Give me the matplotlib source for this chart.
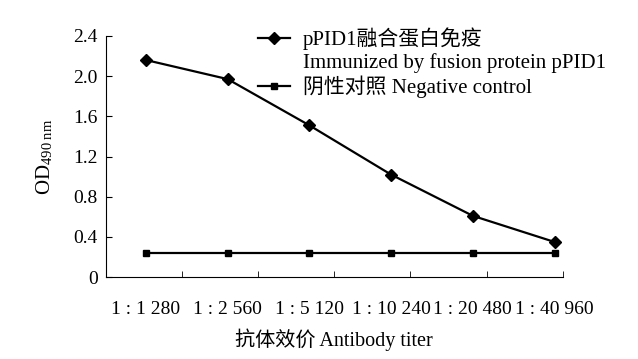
import matplotlib
matplotlib.use('Agg')
import matplotlib.pyplot as plt
from matplotlib.lines import Line2D
import numpy as np

plt.rcParams['font.family'] = ['Liberation Serif', 'Noto Sans CJK SC']
plt.rcParams['mathtext.fontset'] = 'stix'

titers = ['1 : 1 280', '1 : 2 560', '1 : 5 120', '1 : 10 240', '1 : 20 480', '1 : 40 960']
fusion = [2.16, 1.97, 1.51, 1.02, 0.61, 0.35]
negative = [0.24, 0.24, 0.24, 0.24, 0.24, 0.24]

fig = plt.figure(figsize=(6.38, 3.59), dpi=100)
ax = fig.add_axes([0.166, 0.228, 0.716, 0.672])

x = np.arange(len(titers))
l1, = ax.plot(x, fusion, color='black', lw=1.6, marker='D', ms=6)
l2, = ax.plot(x, negative, color='black', lw=1.6, marker='s', ms=4)

xmin, xmax = -0.49, 5.1
ax.set_xlim(xmin, xmax)
ax.set_ylim(0, 2.4)
ax.set_xticks(x)
ax.set_xticklabels(titers, fontsize=14)
ax.tick_params(axis='x', which='major', length=0, pad=17)
ax.set_xticks(np.linspace(xmin, xmax, 7)[1:], minor=True)
ax.tick_params(axis='x', which='minor', direction='in', length=4)
ax.set_yticks([0, 0.4, 0.8, 1.2, 1.6, 2.0, 2.4])
ax.set_yticklabels(['0', '0.4', '0.8', '1.2', '1.6', '2.0', '2.4'], fontsize=14)
ax.tick_params(axis='y', direction='in', length=4, pad=6)
for s in ['top', 'right']:
    ax.spines[s].set_visible(False)

ax.set_xlabel('抗体效价 Antibody titer', fontsize=14.5, labelpad=8)
ax.set_ylabel(r'OD$_{\mathregular{490\ nm}}$', fontsize=15, labelpad=13)

blank = Line2D([], [], color='none')
ax.legend([l1, blank, l2],
          ['pPID1融合蛋白免疫', 'Immunized by fusion protein pPID1', '阴性对照 Negative control'],
          loc='upper left', bbox_to_anchor=(0.404, 0.924), bbox_transform=fig.transFigure,
          frameon=False, fontsize=15, borderpad=0, borderaxespad=0,
          handlelength=1.55, handletextpad=0.6, labelspacing=0.14)

fig.savefig('out.png', dpi=100)
